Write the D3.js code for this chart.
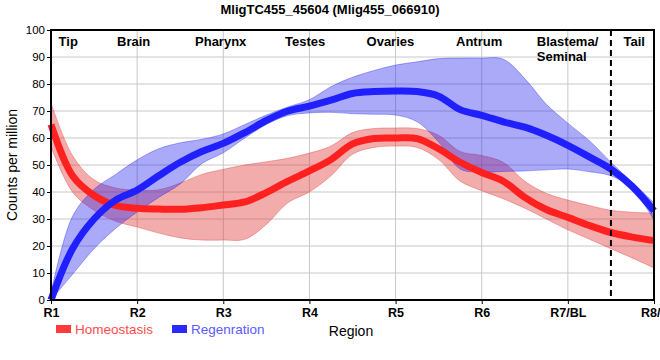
<!DOCTYPE html>
<html>
<head>
<meta charset="utf-8">
<script src="https://cdn.jsdelivr.net/npm/d3@7"></script>
<style>
  body { margin: 0; background: #fff; }
  svg { font-family: "Liberation Sans Narrow", "Liberation Sans", Arial, sans-serif; }
</style>
</head>
<body>
<svg width="660" height="360"></svg>
<script>
// region positions along x (1 = R1 ... 8 = R8/T)
var pos = [1, 1.25, 1.5, 1.75, 2, 2.25, 2.5, 2.75, 3, 3.25, 3.5, 3.75, 4, 4.25, 4.5, 4.75,
           5, 5.25, 5.5, 5.75, 6, 6.25, 6.5, 6.75, 7, 7.25, 7.5, 7.75, 8];

var homMean = [65, 46, 38.7, 35, 34, 33.7, 33.6, 34.2, 35.2, 36.3, 39.8, 44, 47.8, 52, 57.8, 59.8,
               60, 59.8, 56, 51, 47.2, 44, 38, 33.5, 30.6, 27.6, 25, 23.3, 22];
var homHigh = [73, 53.5, 44.5, 41.5, 40.7, 40.8, 43.3, 46.5, 48.4, 50, 51.2, 52.5, 54.4, 57, 62, 63.5,
               63.7, 63.5, 61, 55, 53.5, 51, 44, 39.5, 37, 35, 33.2, 32.5, 32.2];
var homLow  = [56.7, 40, 33.2, 29.2, 27, 24.8, 23, 22.2, 22.2, 22.5, 28, 36, 40, 46, 54, 56.5,
               57, 56.5, 52, 44, 40.5, 37.5, 34, 30, 26, 22.5, 19, 15.5, 11.9];

var regMean = [0, 19, 30, 37, 40.7, 46, 51, 55, 58, 62, 66.5, 70, 71.8, 74, 76.5, 77.2,
               77.4, 77.2, 75.5, 70.5, 68.4, 66, 64, 61, 57.3, 53, 48.5, 42, 33];
var regHigh = [2.6, 31, 41, 46.5, 51.9, 56, 58.2, 59.5, 61.5, 65, 68.5, 71.5, 74.2, 79, 82.5, 85,
               87, 88.2, 89.4, 89.6, 89.6, 89.2, 82, 72.5, 65.5, 59, 51, 43.5, 36];
var regLow  = [0, 9.5, 19, 26.5, 32.6, 38, 43, 50.5, 54.5, 60, 65, 68.3, 69.3, 69.5, 69, 68.8,
               68.5, 66, 58.5, 48.5, 47.4, 47.6, 47.8, 48.2, 48.5, 47.5, 46, 41, 29.6];

var xTicks = ["R1", "R2", "R3", "R4", "R5", "R6", "R7/BL", "R8/T"];
var yTicks = [0, 10, 20, 30, 40, 50, 60, 70, 80, 90, 100];
var regions = ["Tip", "Brain", "Pharynx", "Testes", "Ovaries", "Antrum", "Blastema/\nSeminal", "Tail"];
var regionAt = [1.2, 1.96, 2.97, 3.95, 4.94, 5.97, 6.64, 7.77];
var tailStart = 7.5;

var svg = d3.select("svg");
var mLeft = 51, mRight = 654, mTop = 30, mBottom = 300;

var x = d3.scaleLinear().domain([1, 8]).range([mLeft, mRight]);
var y = d3.scaleLinear().domain([0, 100]).range([mBottom, mTop]);

// grid
svg.append("g").selectAll("line").data(yTicks).enter().append("line")
  .attr("x1", mLeft).attr("x2", mRight)
  .attr("y1", function(d) { return y(d); }).attr("y2", function(d) { return y(d); })
  .attr("stroke", "#c8c8c8").attr("stroke-width", 1);
svg.append("g").selectAll("line").data(xTicks).enter().append("line")
  .attr("x1", function(d, i) { return x(i + 1); }).attr("x2", function(d, i) { return x(i + 1); })
  .attr("y1", mTop).attr("y2", mBottom)
  .attr("stroke", "#c8c8c8").attr("stroke-width", 1);

var curve = d3.curveCatmullRom.alpha(0.5);

function band(lo, hi) {
  return d3.area()
    .x(function(d, i) { return x(pos[i]); })
    .y0(function(d, i) { return y(lo[i]); })
    .y1(function(d, i) { return y(hi[i]); })
    .curve(curve)(pos);
}
function line(vals) {
  return d3.line()
    .x(function(d, i) { return x(pos[i]); })
    .y(function(d, i) { return y(vals[i]); })
    .curve(curve)(pos);
}

svg.append("path").attr("d", band(homLow, homHigh))
  .attr("fill", "#e03030").attr("fill-opacity", 0.4)
  .attr("stroke", "#e03030").attr("stroke-opacity", 0.35);
svg.append("path").attr("d", band(regLow, regHigh))
  .attr("fill", "#2020ee").attr("fill-opacity", 0.38)
  .attr("stroke", "#2020ee").attr("stroke-opacity", 0.35);

svg.append("path").attr("d", line(homMean))
  .attr("fill", "none").attr("stroke", "#ff2020").attr("stroke-width", 7);
svg.append("path").attr("d", line(regMean))
  .attr("fill", "none").attr("stroke", "#2020ff").attr("stroke-width", 7);

// dashed tail boundary
svg.append("line")
  .attr("x1", x(tailStart)).attr("x2", x(tailStart))
  .attr("y1", mTop).attr("y2", mBottom)
  .attr("stroke", "#000").attr("stroke-width", 2).attr("stroke-dasharray", "6,4");

// frame
svg.append("rect").attr("x", mLeft).attr("y", mTop)
  .attr("width", mRight - mLeft).attr("height", mBottom - mTop)
  .attr("fill", "none").attr("stroke", "#000").attr("stroke-width", 2);

// axes
var yAxis = d3.axisLeft(y).tickValues(yTicks).tickSize(4).tickPadding(2);
var gy = svg.append("g").attr("transform", "translate(" + mLeft + ",0)").call(yAxis);
gy.select(".domain").remove();
gy.selectAll("text").attr("font-size", 11.5).attr("fill", "#000")
  .attr("font-family", "Liberation Sans, Arial, sans-serif");

var xAxis = d3.axisBottom(x).tickValues([1, 2, 3, 4, 5, 6, 7, 8])
  .tickFormat(function(d) { return xTicks[d - 1]; }).tickSize(4).tickPadding(4);
var gx = svg.append("g").attr("transform", "translate(0," + mBottom + ")").call(xAxis);
gx.select(".domain").remove();
gx.selectAll("text").attr("font-size", 12.5).attr("font-weight", "bold").attr("fill", "#000");

// region labels
regions.forEach(function(r, i) {
  var parts = r.split("\n");
  var t = svg.append("text")
    .attr("x", x(regionAt[i])).attr("y", 46)
    .attr("font-size", 13).attr("font-weight", "bold")
    .attr("text-anchor", parts.length > 1 ? "start" : "middle");
  parts.forEach(function(p, j) {
    t.append("tspan").attr("x", x(regionAt[i])).attr("dy", j ? 15 : 0).text(p);
  });
});

// title
svg.append("text").attr("x", 330).attr("y", 14).attr("text-anchor", "middle")
  .attr("font-size", 13).attr("font-weight", "bold").text("MligTC455_45604 (Mlig455_066910)");

// axis titles
svg.append("text").attr("transform", "translate(17,165) rotate(-90)")
  .attr("text-anchor", "middle").attr("font-size", 14)
  .attr("font-family", "Liberation Sans, Arial, sans-serif")
  .text("Counts per million");
svg.append("text").attr("x", 351).attr("y", 336).attr("text-anchor", "middle")
  .attr("font-size", 14).text("Region");

// legend
var legend = [["Homeostasis", "#ff3a3a", "#ff4c4c"], ["Regenration", "#2a2aff", "#5a5aff"]];
var legX = [56, 172];
legend.forEach(function(l, i) {
  svg.append("rect").attr("x", legX[i]).attr("y", 325).attr("width", 15).attr("height", 8)
    .attr("fill", l[1]);
  svg.append("text").attr("x", legX[i] + 19).attr("y", 334)
    .attr("font-size", 13.5).attr("fill", l[2]).text(l[0]);
});
</script>
</body>
</html>
